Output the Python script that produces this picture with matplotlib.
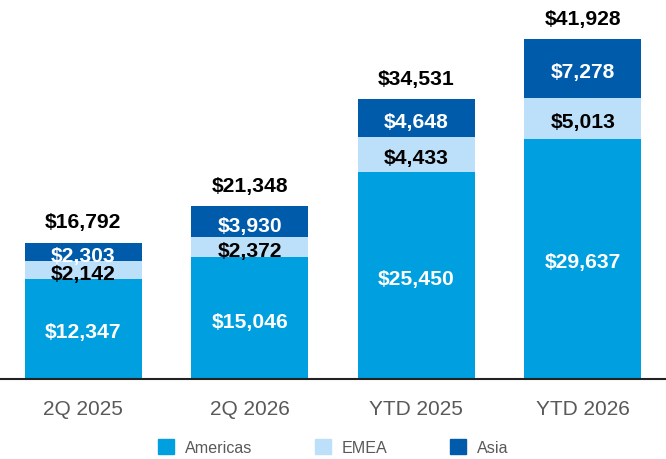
import matplotlib
matplotlib.use("Agg")
import matplotlib.pyplot as plt
from matplotlib.patches import Patch

categories = ["2Q 2025", "2Q 2026", "YTD 2025", "YTD 2026"]
americas = [12347, 15046, 25450, 29637]
emea = [2142, 2372, 4433, 5013]
asia = [2303, 3930, 4648, 7278]
totals = [16792, 21348, 34531, 41928]
series_names = ["Americas", "EMEA", "Asia"]

c_am = "#009FDF"
c_em = "#BDE0FA"
c_as = "#005BAA"

plt.rcParams['font.family'] = ['Liberation Sans', 'DejaVu Sans']

fig = plt.figure(figsize=(6.66, 4.60), dpi=100)
ax = fig.add_axes([0, 1 - 379.5 / 460, 1, 379.5 / 460])

x = list(range(len(categories)))
w = 0.7
ax.bar(x, americas, w, color=c_am, zorder=2)
ax.bar(x, emea, w, bottom=americas, color=c_em, zorder=2)
bottom3 = [a + e for a, e in zip(americas, emea)]
ax.bar(x, asia, w, bottom=bottom3, color=c_as, zorder=2)

fs = 15.2
off = (0, -2.5)
for i in x:
    ax.annotate(f"${americas[i]:,}", (i, americas[i] / 2), xytext=off, textcoords='offset points',
                ha='center', va='center', color='white', fontsize=fs, fontweight='bold', zorder=3)
    ax.annotate(f"${emea[i]:,}", (i, americas[i] + emea[i] / 2), xytext=off, textcoords='offset points',
                ha='center', va='center', color='black', fontsize=fs, fontweight='bold', zorder=3)
    ax.annotate(f"${asia[i]:,}", (i, bottom3[i] + asia[i] / 2), xytext=off, textcoords='offset points',
                ha='center', va='center', color='white', fontsize=fs, fontweight='bold', zorder=3)
    ax.annotate(f"${totals[i]:,}", (i, totals[i]), xytext=(0, 14.8), textcoords='offset points',
                ha='center', va='center', color='black', fontsize=fs, fontweight='bold')

ax.set_xlim(-0.5, 3.5)
ax.set_ylim(0, 41928 * 379.5 / 339.5)
ax.set_xticks(x)
ax.set_xticklabels(categories, fontsize=15, color='#595959')
ax.tick_params(axis='x', length=0, pad=15)
ax.set_yticks([])
for s in ['top', 'right', 'left']:
    ax.spines[s].set_visible(False)
ax.spines['bottom'].set_color('#222222')
ax.spines['bottom'].set_linewidth(1.5)

handles = [Patch(color=c_am), Patch(color=c_em), Patch(color=c_as)]
fig.legend(handles, series_names, loc='center', bbox_to_anchor=(0.5, 1 - 448 / 460),
           ncol=3, frameon=False, fontsize=11.6, labelcolor='#595959',
           handlelength=1.0, handleheight=1.0, handletextpad=0.65, columnspacing=3.9)

fig.savefig("out.png", dpi=100)
